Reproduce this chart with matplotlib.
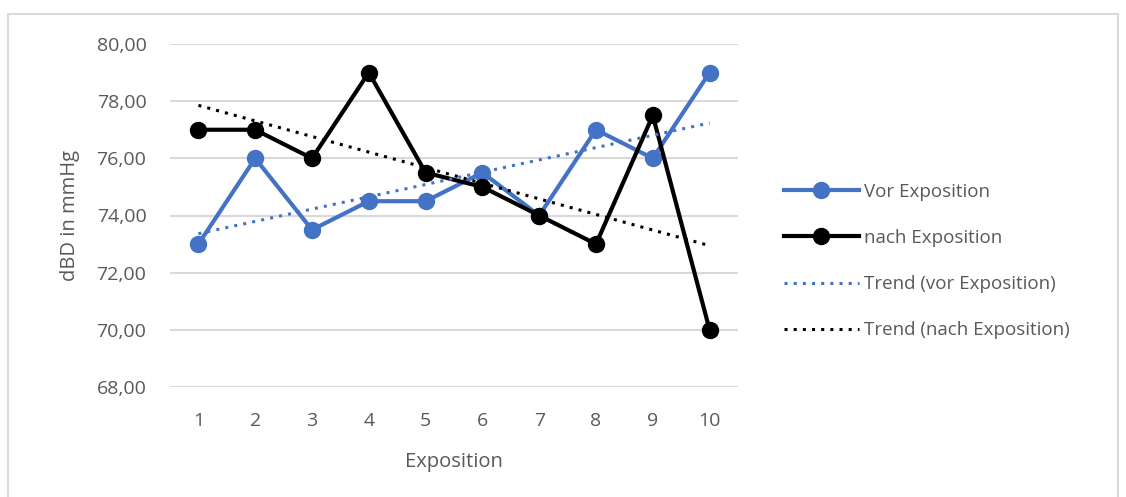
import matplotlib.pyplot as plt
import numpy as np
from matplotlib.patches import Rectangle

plt.rcParams.update({"font.family": ["Open Sans", "DejaVu Sans"], "font.size": 13})

# Data
exposition = [1, 2, 3, 4, 5, 6, 7, 8, 9, 10]
vor = [73.0, 76.0, 73.5, 74.5, 74.5, 75.5, 74.0, 77.0, 76.0, 79.0]
nach = [77.0, 77.0, 76.0, 79.0, 75.5, 75.0, 74.0, 73.0, 77.5, 70.0]
y_ticks = [68, 70, 72, 74, 76, 78, 80]

blue = "#4472C4"
text_col = "#595959"

fig = plt.figure(figsize=(11.26, 4.97), dpi=100)
ax = fig.add_axes([170 / 1126, 1 - 387 / 497, (738 - 170) / 1126, (387 - 44) / 497])

x = np.array(exposition)
ax.plot(x, vor, color=blue, lw=3, marker="o", ms=11.5, label="Vor Exposition", zorder=3)
ax.plot(x, nach, color="black", lw=3, marker="o", ms=11.5, label="nach Exposition", zorder=4)

# linear trend lines
pv = np.polyfit(x, vor, 1)
pn = np.polyfit(x, nach, 1)
ax.plot(x, np.polyval(pv, x), color=blue, lw=2.2, ls=(0, (1, 2)), label="Trend (vor Exposition)", zorder=5)
ax.plot(x, np.polyval(pn, x), color="black", lw=2.2, ls=(0, (1, 2)), label="Trend (nach Exposition)", zorder=5)

ax.set_xlim(0.5, 10.5)
ax.set_ylim(68, 80)
ax.set_xticks(exposition)
ax.set_yticks(y_ticks)
ax.set_yticklabels([f"{v:.2f}".replace(".", ",") for v in y_ticks])
ax.tick_params(length=0, colors=text_col, labelsize=14)
ax.tick_params(axis="x", pad=18)
ax.tick_params(axis="y", pad=17)
ax.grid(axis="y", color="#D9D9D9", lw=1.5)
ax.set_axisbelow(True)
for s in ax.spines.values():
    s.set_visible(False)

ax.set_xlabel("Exposition", color=text_col, fontsize=14.5, labelpad=16)
ax.set_ylabel("dBD in mmHg", color=text_col, fontsize=14.5, labelpad=12)

leg = fig.legend(loc="center left", bbox_to_anchor=(767 / 1126, 1 - 261 / 497),
                 frameon=False, fontsize=13.5, handlelength=4.0, labelspacing=1.5,
                 handletextpad=0.3)
for t in leg.get_texts():
    t.set_color(text_col)

# outer chart border
fig.patches.append(Rectangle((8 / 1126, -0.1), 1110 / 1126, 1.1 - 14 / 497,
                             transform=fig.transFigure, fill=False,
                             edgecolor="#D9D9D9", lw=1.5))

fig.savefig("out.png", dpi=100)
